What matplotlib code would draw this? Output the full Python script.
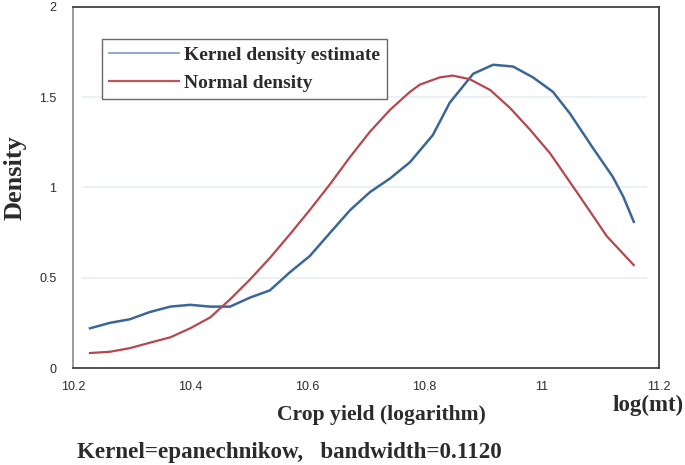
import matplotlib
matplotlib.use("Agg")
import matplotlib.pyplot as plt

kde_x = [10.229, 10.263, 10.297, 10.331, 10.366, 10.400, 10.434, 10.468, 10.502,
         10.536, 10.570, 10.604, 10.639, 10.673, 10.707, 10.741, 10.775, 10.814,
         10.843, 10.883, 10.917, 10.951, 10.985, 11.019, 11.048, 11.087,
         11.121, 11.139, 11.157]
kde_y = [0.22, 0.25, 0.27, 0.31, 0.34, 0.35, 0.34, 0.34, 0.39,
         0.43, 0.53, 0.62, 0.75, 0.875, 0.975, 1.05, 1.14, 1.29,
         1.47, 1.63, 1.68, 1.67, 1.61, 1.53, 1.41, 1.22,
         1.06, 0.95, 0.81]

norm_x = [10.229, 10.263, 10.297, 10.331, 10.366, 10.400, 10.434, 10.468, 10.502,
          10.536, 10.570, 10.604, 10.639, 10.673, 10.707, 10.741, 10.775, 10.792,
          10.826, 10.848, 10.877, 10.912, 10.946, 10.980, 11.014, 11.065, 11.111,
          11.157]
norm_y = [0.083, 0.09, 0.11, 0.14, 0.17, 0.22, 0.28, 0.38, 0.49,
          0.61, 0.74, 0.875, 1.02, 1.17, 1.31, 1.43, 1.53, 1.57,
          1.61, 1.62, 1.60, 1.54, 1.44, 1.32, 1.19, 0.95, 0.73,
          0.57]

x_ticks = [10.2, 10.4, 10.6, 10.8, 11, 11.2]
x_labels = ["10.2", "10.4", "10.6", "10.8", "11", "11.2"]
y_ticks = [0, 0.5, 1, 1.5, 2]
y_labels = ["0", "0.5", "1", "1.5", "2"]

serif = ["Liberation Serif", "DejaVu Serif"]
txt_col = "#2b2b2b"

fig = plt.figure(figsize=(6.85, 4.65), dpi=100)
ax = fig.add_axes([0.1066, 0.2086, 0.8554, 0.7764])

for g in [0.5, 1.0, 1.5]:
    ax.hlines(g, 10.215, 11.18, color="#e6eef3", lw=1.2, zorder=0)

ax.plot(kde_x, kde_y, color="#3b6795", lw=1.8)
ax.plot(norm_x, norm_y, color="#b5474d", lw=1.6)
# legend proxies (thin lines as in the reference)
ax.plot([], [], color="#6f8fbf", lw=1.1, label="Kernel density estimate")
ax.plot([], [], color="#c0565b", lw=1.6, label="Normal density")

ax.set_xlim(10.2, 11.2)
ax.set_ylim(0, 2)
ax.set_xticks(x_ticks)
ax.set_xticklabels(x_labels, fontfamily="Liberation Sans", fontsize=9, color=txt_col)
ax.set_yticks(y_ticks)
ax.set_yticklabels(y_labels, fontfamily="Liberation Sans", fontsize=9, color=txt_col)
ax.tick_params(length=0, pad=9)
ax.tick_params(axis="y", pad=12)

for s in ["top", "right", "bottom"]:
    ax.spines[s].set_color("#333333")
    ax.spines[s].set_linewidth(1.2)
ax.spines["left"].set_color("#8a8a8a")
ax.spines["left"].set_linewidth(1.2)

leg = ax.legend(loc="upper left", bbox_to_anchor=(0.049, 0.91), frameon=True,
                fancybox=False, edgecolor="#444444", handlelength=3.6,
                handletextpad=0.3, borderpad=0.35, labelspacing=0.55,
                borderaxespad=0.0,
                prop={"family": serif, "weight": "bold", "size": 14})
leg.get_frame().set_linewidth(1.0)
for t in leg.get_texts():
    t.set_color(txt_col)

fig.text(0.022, 0.618, "Density", rotation=90, ha="center", va="center",
         family=serif, weight="bold", fontsize=19, color=txt_col)
fig.text(0.557, 0.108, "Crop yield (logarithm)", ha="center", va="center",
         family=serif, weight="bold", fontsize=15.6, color=txt_col)
fig.text(0.946, 0.128, "log(mt)", ha="center", va="center",
         family=serif, weight="bold", fontsize=16.5, color=txt_col)
fig.text(0.112, 0.027, "Kernel=epanechnikow,   bandwidth=0.1120", ha="left", va="center",
         family=serif, weight="bold", fontsize=16.6, color=txt_col)

fig.savefig("out.png", dpi=100)
